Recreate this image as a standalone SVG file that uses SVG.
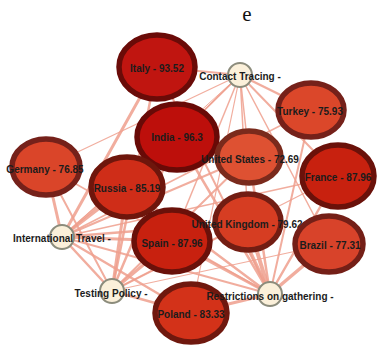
<svg xmlns="http://www.w3.org/2000/svg" width="377" height="345" viewBox="0 0 377 345">
  <style>
    .edge { stroke: #ef9f8d; stroke-linecap: round; fill: none; opacity: 0.85; }
    .country ellipse { stroke-width: 5.5; }
    .policy circle { fill: #fbf0da; stroke: #8c8c7c; stroke-width: 2; }
    .lbl { font-family: "Liberation Sans", Arial, sans-serif; font-size: 10px; font-weight: bold; fill: #1c1c1c; text-anchor: middle; dominant-baseline: central; }
    .title { font-family: "Liberation Serif", "Times New Roman", serif; font-size: 21px; fill: #111; text-anchor: middle; }
  </style>

  <rect width="377" height="345" fill="#ffffff"/>
  <text class="title" x="247" y="21">e</text>

  <!-- links between policy measures and countries -->
  <g id="edges">
    <!-- Contact Tracing -->
    <line class="edge" x1="240" y1="75" x2="157" y2="67" stroke-width="2"/>
    <line class="edge" x1="240" y1="75" x2="177" y2="137" stroke-width="1.5"/>
    <line class="edge" x1="240" y1="75" x2="311" y2="110" stroke-width="2.5"/>
    <line class="edge" x1="240" y1="75" x2="249" y2="157" stroke-width="1.5"/>
    <line class="edge" x1="240" y1="75" x2="338" y2="176" stroke-width="2"/>
    <line class="edge" x1="240" y1="75" x2="248" y2="222" stroke-width="1.5"/>
    <line class="edge" x1="240" y1="75" x2="172" y2="241" stroke-width="1.5"/>
    <line class="edge" x1="240" y1="75" x2="127" y2="187" stroke-width="1.5"/>
    <line class="edge" x1="240" y1="75" x2="329" y2="244" stroke-width="1.5"/>
    <line class="edge" x1="240" y1="75" x2="191" y2="313" stroke-width="1.2"/>
    <line class="edge" x1="240" y1="75" x2="46" y2="167" stroke-width="1.2"/>
    <line class="edge" x1="240" y1="75" x2="62" y2="237" stroke-width="1"/>
    <!-- International Travel -->
    <line class="edge" x1="62" y1="237" x2="46" y2="167" stroke-width="3"/>
    <line class="edge" x1="62" y1="237" x2="127" y2="187" stroke-width="3"/>
    <line class="edge" x1="62" y1="237" x2="157" y2="67" stroke-width="3"/>
    <line class="edge" x1="62" y1="237" x2="177" y2="137" stroke-width="2.5"/>
    <line class="edge" x1="62" y1="237" x2="172" y2="241" stroke-width="3"/>
    <line class="edge" x1="62" y1="237" x2="249" y2="157" stroke-width="2"/>
    <line class="edge" x1="62" y1="237" x2="248" y2="222" stroke-width="2.5"/>
    <line class="edge" x1="62" y1="237" x2="191" y2="313" stroke-width="2.5"/>
    <line class="edge" x1="62" y1="237" x2="338" y2="176" stroke-width="1.5"/>
    <line class="edge" x1="62" y1="237" x2="311" y2="110" stroke-width="1.5"/>
    <line class="edge" x1="62" y1="237" x2="270" y2="294" stroke-width="2"/>
    <!-- Testing Policy -->
    <line class="edge" x1="112" y1="291" x2="62" y2="237" stroke-width="2.5"/>
    <line class="edge" x1="112" y1="291" x2="46" y2="167" stroke-width="2"/>
    <line class="edge" x1="112" y1="291" x2="127" y2="187" stroke-width="3"/>
    <line class="edge" x1="112" y1="291" x2="157" y2="67" stroke-width="2.5"/>
    <line class="edge" x1="112" y1="291" x2="177" y2="137" stroke-width="2.5"/>
    <line class="edge" x1="112" y1="291" x2="172" y2="241" stroke-width="3"/>
    <line class="edge" x1="112" y1="291" x2="191" y2="313" stroke-width="2.5"/>
    <line class="edge" x1="112" y1="291" x2="249" y2="157" stroke-width="2"/>
    <line class="edge" x1="112" y1="291" x2="248" y2="222" stroke-width="2"/>
    <line class="edge" x1="112" y1="291" x2="329" y2="244" stroke-width="1.2"/>
    <line class="edge" x1="112" y1="291" x2="338" y2="176" stroke-width="1.2"/>
    <!-- Restrictions on gathering -->
    <line class="edge" x1="270" y1="294" x2="248" y2="222" stroke-width="4"/>
    <line class="edge" x1="270" y1="294" x2="238" y2="225" stroke-width="3"/>
    <line class="edge" x1="270" y1="294" x2="329" y2="244" stroke-width="3.5"/>
    <line class="edge" x1="270" y1="294" x2="172" y2="241" stroke-width="3"/>
    <line class="edge" x1="270" y1="294" x2="191" y2="313" stroke-width="3"/>
    <line class="edge" x1="270" y1="294" x2="249" y2="157" stroke-width="2.5"/>
    <line class="edge" x1="270" y1="294" x2="338" y2="176" stroke-width="2.5"/>
    <line class="edge" x1="270" y1="294" x2="177" y2="137" stroke-width="2.5"/>
    <line class="edge" x1="270" y1="294" x2="127" y2="187" stroke-width="2.5"/>
    <line class="edge" x1="270" y1="294" x2="311" y2="110" stroke-width="2"/>
    <line class="edge" x1="270" y1="294" x2="157" y2="67" stroke-width="2"/>
    <line class="edge" x1="270" y1="294" x2="46" y2="167" stroke-width="1.5"/>
  </g>

  <!-- country nodes -->
  <g id="italy" class="country">
    <ellipse cx="157" cy="67" rx="38" ry="32" fill="#c01510" stroke="#6a0b08"/>
    <text class="lbl" x="157" y="68">Italy - 93.52</text>
  </g>
  <g id="turkey" class="country">
    <ellipse cx="311" cy="110" rx="33" ry="27" fill="#db472a" stroke="#75211a"/>
    <text class="lbl" x="310" y="111">Turkey - 75.93</text>
  </g>
  <g id="india" class="country">
    <ellipse cx="177" cy="137" rx="40" ry="33" fill="#bd0f0b" stroke="#680a07"/>
    <text class="lbl" x="177" y="137">India - 96.3</text>
  </g>
  <g id="germany" class="country">
    <ellipse cx="46" cy="167" rx="34" ry="28" fill="#da4529" stroke="#75211a"/>
    <text class="lbl" x="45" y="169">Germany - 76.85</text>
  </g>
  <g id="united-states" class="country">
    <ellipse cx="249" cy="157" rx="32" ry="26" fill="#de5132" stroke="#7a2a1c"/>
    <text class="lbl" x="250" y="159">United States - 72.69</text>
  </g>
  <g id="russia" class="country">
    <ellipse cx="127" cy="187" rx="36" ry="30" fill="#cf2d18" stroke="#6e160c"/>
    <text class="lbl" x="127" y="188">Russia - 85.19</text>
  </g>
  <g id="france" class="country">
    <ellipse cx="338" cy="176" rx="36" ry="31" fill="#c8210f" stroke="#6a110a"/>
    <text class="lbl" x="338" y="177">France - 87.96</text>
  </g>
  <g id="spain" class="country">
    <ellipse cx="172" cy="241" rx="38" ry="31" fill="#c8210f" stroke="#6a110a"/>
    <text class="lbl" x="172" y="243">Spain - 87.96</text>
  </g>
  <g id="united-kingdom" class="country">
    <ellipse cx="248" cy="222" rx="33" ry="28" fill="#d63d22" stroke="#721d13"/>
    <text class="lbl" x="247" y="224">United Kingdom - 79.62</text>
  </g>
  <g id="brazil" class="country">
    <ellipse cx="329" cy="244" rx="34" ry="28" fill="#d8432a" stroke="#741f17"/>
    <text class="lbl" x="330" y="245">Brazil - 77.31</text>
  </g>
  <g id="poland" class="country">
    <ellipse cx="191" cy="313" rx="36" ry="29" fill="#d33219" stroke="#6f180e"/>
    <text class="lbl" x="191" y="314">Poland - 83.33</text>
  </g>

  <!-- policy nodes -->
  <g id="contact-tracing" class="policy">
    <circle cx="240" cy="75" r="12"/>
    <text class="lbl" x="240" y="76">Contact Tracing -</text>
  </g>
  <g id="international-travel" class="policy">
    <circle cx="62" cy="237" r="12"/>
    <text class="lbl" x="62" y="238">International Travel -</text>
  </g>
  <g id="testing-policy" class="policy">
    <circle cx="112" cy="291" r="12"/>
    <text class="lbl" x="111" y="293">Testing Policy -</text>
  </g>
  <g id="restrictions-on-gathering" class="policy">
    <circle cx="270" cy="294" r="12"/>
    <text class="lbl" x="270" y="296">Restrictions on gathering -</text>
  </g>
</svg>
